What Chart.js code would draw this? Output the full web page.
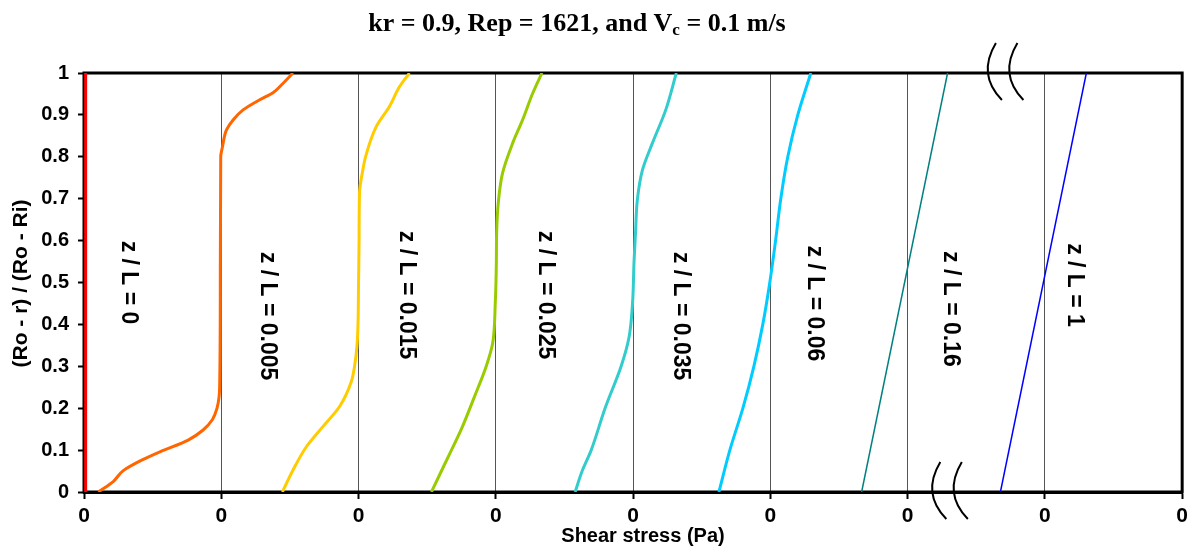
<!DOCTYPE html>
<html>
<head>
<meta charset="utf-8">
<script src="https://cdn.jsdelivr.net/npm/chart.js@4/dist/chart.umd.min.js"></script>
<style>
  html, body { margin: 0; padding: 0; background: #fff; }
</style>
</head>
<body>
<canvas id="graficoTensao" width="1193" height="548"></canvas>
<script>
// x em unidades de grade (cada divisao = um "0" no eixo), y = (Ro - r) / (Ro - Ri)
const xZ0 = [0.012, 0.012];
const yZ0 = [0, 1];

const xZ005 = [0.104, 0.213, 0.286, 0.420, 0.553, 0.759, 0.868, 0.936, 0.969, 0.984, 0.989, 0.993, 0.996, 1.009, 1.038, 1.086, 1.159, 1.280, 1.377, 1.449, 1.522];
const yZ005 = [0, 0.025, 0.051, 0.076, 0.096, 0.124, 0.148, 0.173, 0.2, 0.227, 0.267, 0.5, 0.8, 0.824, 0.864, 0.888, 0.912, 0.936, 0.953, 0.975, 1];

const xZ015 = [1.445, 1.522, 1.620, 1.740, 1.862, 1.947, 1.971, 1.989, 1.996, 2.0, 2.004, 2.007, 2.031, 2.051, 2.129, 2.225, 2.298, 2.371];
const yZ015 = [0, 0.052, 0.108, 0.156, 0.204, 0.263, 0.3, 0.35, 0.4, 0.5, 0.6, 0.713, 0.768, 0.8, 0.872, 0.92, 0.967, 1];

const xZ025 = [2.531, 2.589, 2.662, 2.749, 2.844, 2.929, 2.977, 2.996, 3.004, 3.006, 3.020, 3.049, 3.122, 3.195, 3.268, 3.336];
const yZ025 = [0, 0.04, 0.09, 0.15, 0.227, 0.299, 0.355, 0.45, 0.55, 0.617, 0.697, 0.761, 0.832, 0.888, 0.951, 1];

const xZ035 = [3.578, 3.629, 3.695, 3.796, 3.913, 3.971, 3.996, 4.007, 4.018, 4.031, 4.068, 4.140, 4.238, 4.315];
const yZ035 = [0, 0.05, 0.1, 0.2, 0.3, 0.37, 0.45, 0.55, 0.62, 0.697, 0.768, 0.832, 0.912, 1];

const xZ06 = [4.625, 4.705, 4.800, 4.880, 4.945, 4.996, 5.038, 5.076, 5.127, 5.200, 5.295];
const yZ06 = [0, 0.1, 0.2, 0.3, 0.4, 0.5, 0.6, 0.7, 0.8, 0.9, 1];

const xZ16 = [5.665, 6.291];
const yZ16 = [0, 1];

const xZ1 = [6.676, 7.302];
const yZ1 = [0, 1];

const rotulos = ["z / L = 0", "z / L = 0.005", "z / L = 0.015", "z / L = 0.025", "z / L = 0.035", "z / L = 0.06", "z / L = 0.16", "z / L = 1"];
// posicao dos rotulos (centro) em coordenadas dos dados
const rotuloX = [0.32, 1.338, 2.349, 3.36, 4.342, 5.324, 6.313, 7.215];
const rotuloY = [0.50, 0.42, 0.47, 0.47, 0.42, 0.45, 0.437, 0.494];

const cores = ["#ff0000", "#ff6600", "#ffcc00", "#99cc00", "#33cccc", "#00ccff", "#008080", "#0000ff"];
const espessuras = [3, 3, 3, 3, 3, 3, 1.5, 1.5];

const series = [[xZ0, yZ0], [xZ005, yZ005], [xZ015, yZ015], [xZ025, yZ025], [xZ035, yZ035], [xZ06, yZ06], [xZ16, yZ16], [xZ1, yZ1]];

function montarPontos(xs, ys) {
    return xs.map((x, i) => ({ x: x, y: ys[i] }));
}

const datasets = series.map((s, i) => ({
    label: rotulos[i],
    data: montarPontos(s[0], s[1]),
    borderColor: cores[i],
    borderWidth: espessuras[i],
    pointRadius: 0,
    cubicInterpolationMode: "monotone",
    fill: false,
}));

// marcas de quebra de escala: ancoras em coordenadas dos dados
const quebras = [{ x: 6.585, y: 1 }, { x: 6.18, y: 0 }];

const moldura = {
    id: "moldura",
    beforeDatasetsDraw(chart) {
        const ctx = chart.ctx;
        const area = chart.chartArea;
        ctx.save();
        ctx.strokeStyle = "#000";
        ctx.lineWidth = 3;
        ctx.strokeRect(area.left, area.top, area.right - area.left, area.bottom - area.top);
        ctx.restore();
    },
};

const desenhos = {
    id: "desenhos",
    afterDraw(chart) {
        const ctx = chart.ctx;
        const area = chart.chartArea;
        const sx = chart.scales.x;
        const sy = chart.scales.y;
        ctx.save();

        // rotulos verticais
        ctx.fillStyle = "#000";
        ctx.strokeStyle = "#000";
        ctx.font = "bold 23px 'Liberation Sans', Arial, sans-serif";
        ctx.textAlign = "center";
        ctx.textBaseline = "middle";
        rotulos.forEach((t, i) => {
            ctx.save();
            ctx.translate(sx.getPixelForValue(rotuloX[i]), sy.getPixelForValue(rotuloY[i]));
            ctx.rotate(Math.PI / 2);
            ctx.fillText(t, 0, 0);
            ctx.restore();
        });

        // quebras "(("
        ctx.lineWidth = 2;
        quebras.forEach((q) => {
            const px = sx.getPixelForValue(q.x);
            const py = sy.getPixelForValue(q.y);
            [0, 21.5].forEach((dx) => {
                const mx = px + dx, my = py;
                const p0 = [mx + 8, my - 30];
                const p2 = [mx + 14, my + 27];
                const cx = 2 * mx - (p0[0] + p2[0]) / 2;
                const cy = 2 * my - (p0[1] + p2[1]) / 2;
                ctx.beginPath();
                ctx.moveTo(p0[0], p0[1]);
                ctx.quadraticCurveTo(cx, cy, p2[0], p2[1]);
                ctx.stroke();
            });
        });

        // titulo do eixo y
        ctx.font = "bold 21px 'Liberation Sans', Arial, sans-serif";
        ctx.save();
        ctx.translate(21, (area.top + area.bottom) / 2 + 1);
        ctx.rotate(-Math.PI / 2);
        ctx.fillText("(Ro - r) / (Ro - Ri)", 0, 0);
        ctx.restore();

        // titulo do eixo x
        ctx.font = "bold 20px 'Liberation Sans', Arial, sans-serif";
        ctx.fillText("Shear stress (Pa)", 643, 536);

        // titulo com subscrito
        const parte1 = "kr = 0.9, Rep = 1621, and V";
        const sub = "c";
        const parte2 = " = 0.1 m/s";
        const fonteT = "bold 26px 'Liberation Serif', 'Times New Roman', serif";
        const fonteS = "bold 17px 'Liberation Serif', 'Times New Roman', serif";
        ctx.font = fonteT;
        const w1 = ctx.measureText(parte1).width;
        const w3 = ctx.measureText(parte2).width;
        ctx.font = fonteS;
        const w2 = ctx.measureText(sub).width;
        const total = w1 + w2 + w3;
        const x0 = 577 - total / 2;
        ctx.textAlign = "left";
        ctx.textBaseline = "alphabetic";
        ctx.font = fonteT;
        ctx.fillText(parte1, x0, 31);
        ctx.font = fonteS;
        ctx.fillText(sub, x0 + w1, 35);
        ctx.font = fonteT;
        ctx.fillText(parte2, x0 + w1 + w2, 31);

        ctx.restore();
    },
};

const canvasGrafico = document.getElementById("graficoTensao");
const grafico = new Chart(canvasGrafico, {
    type: "line",
    data: { datasets: datasets },
    options: {
        indexAxis: "y",
        responsive: false,
        animation: false,
        layout: { padding: { top: 73, right: 9, left: 0, bottom: 0 } },
        plugins: {
            legend: { display: false },
            title: { display: false },
            tooltip: { enabled: false },
        },
        scales: {
            x: {
                type: "linear",
                position: "bottom",
                min: 0,
                max: 8,
                afterFit(scale) { scale.height = 56; },
                border: { color: "#000", width: 3 },
                grid: {
                    color: "#555",
                    lineWidth: 1,
                    drawTicks: true,
                    tickLength: 7,
                    tickColor: "#000",
                    tickWidth: 2,
                },
                ticks: {
                    stepSize: 1,
                    padding: 5,
                    color: "#000",
                    font: { family: "'Liberation Sans', Arial, sans-serif", size: 21, weight: "bold" },
                    callback: () => "0",
                },
            },
            y: {
                type: "linear",
                position: "left",
                min: 0,
                max: 1,
                afterFit(scale) { scale.width = 84; },
                border: { color: "#000", width: 3 },
                grid: {
                    drawOnChartArea: false,
                    drawTicks: true,
                    tickLength: 6,
                    tickColor: "#000",
                    tickWidth: 2,
                },
                ticks: {
                    stepSize: 0.1,
                    padding: 9,
                    color: "#000",
                    font: { family: "'Liberation Sans', Arial, sans-serif", size: 20, weight: "bold" },
                    callback: (v) => String(Number(v.toFixed(1))),
                },
            },
        },
    },
    plugins: [moldura, desenhos],
});
</script>
</body>
</html>
